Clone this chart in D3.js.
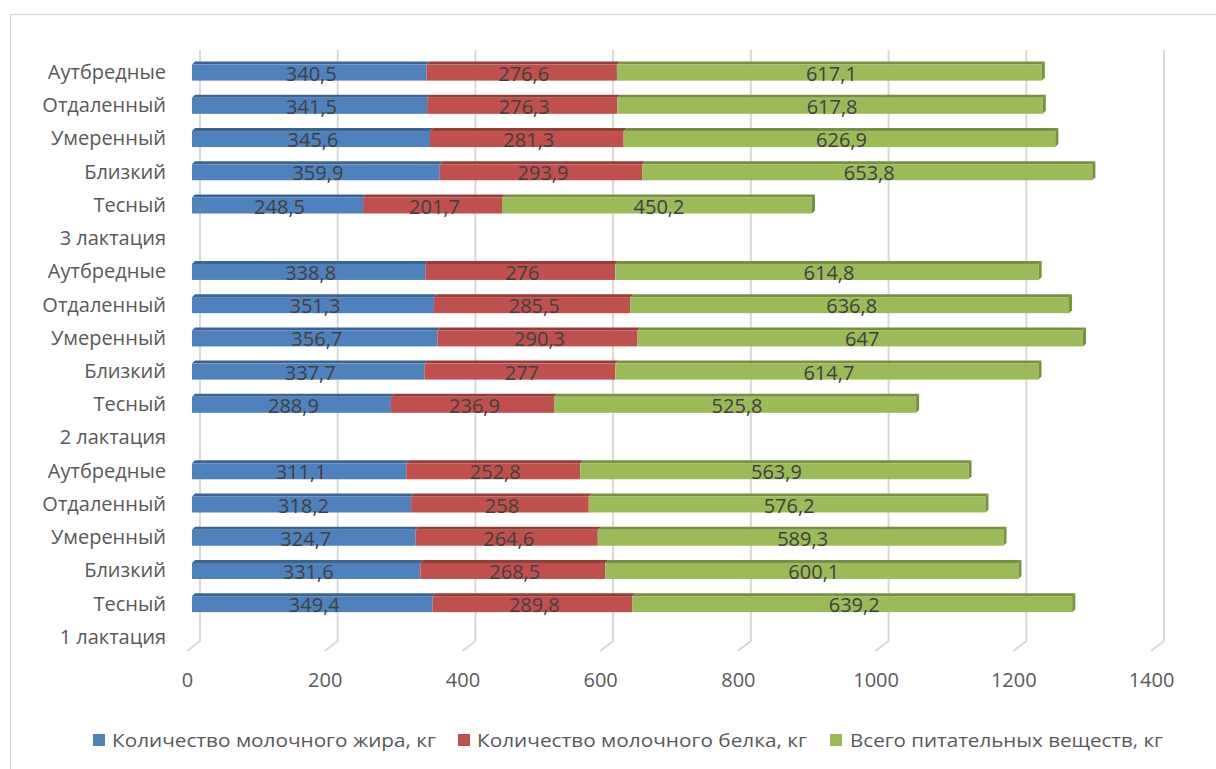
<!DOCTYPE html>
<html>
<head>
<meta charset="utf-8">
<script src="https://cdn.jsdelivr.net/npm/d3@7"></script>
<style>
  body { margin: 0; background: #fff; }
  text { font-family: "Open Sans", "Noto Sans", sans-serif; }
</style>
</head>
<body>
<svg id="chart"></svg>
<script>
// categories from bottom to top
var categories = [
  '1 лактация', 'Тесный', 'Близкий', 'Умеренный', 'Отдаленный', 'Аутбредные',
  '2 лактация', 'Тесный', 'Близкий', 'Умеренный', 'Отдаленный', 'Аутбредные',
  '3 лактация', 'Тесный', 'Близкий', 'Умеренный', 'Отдаленный', 'Аутбредные'
];
var fat     = [null, 349.4, 331.6, 324.7, 318.2, 311.1, null, 288.9, 337.7, 356.7, 351.3, 338.8, null, 248.5, 359.9, 345.6, 341.5, 340.5];
var protein = [null, 289.8, 268.5, 264.6, 258, 252.8, null, 236.9, 277, 290.3, 285.5, 276, null, 201.7, 293.9, 281.3, 276.3, 276.6];
var total   = [null, 639.2, 600.1, 589.3, 576.2, 563.9, null, 525.8, 614.7, 647, 636.8, 614.8, null, 450.2, 653.8, 626.9, 617.8, 617.1];
var seriesNames = ['Количество молочного жира, кг', 'Количество молочного белка, кг', 'Всего питательных веществ, кг'];
var xTicks = [0, 200, 400, 600, 800, 1000, 1200, 1400];

var colors = ['#4f81bd', '#c0504d', '#9bbb59'];
var topColors = ['#3b6496', '#983c3a', '#77913f'];

var width = 1216, height = 769;
var svg = d3.select('#chart').attr('width', width).attr('height', height);

// chart border
svg.append('rect').attr('x', 10.5).attr('y', 14.5).attr('width', 1215).attr('height', 760)
  .attr('fill', 'none').attr('stroke', '#d9d9d9').attr('stroke-width', 1.3);

// front-plane x scale and depth offsets
var x = d3.scaleLinear().domain([0, 1400]).range([187, 1151]);
var depthX = 13, depthY = -10;
var y = d3.scaleBand().domain(d3.range(categories.length)).range([653, 55]);

// gridlines on back wall with floor diagonal
var grid = svg.append('g');
xTicks.forEach(function(t) {
  var bx = x(t) + depthX;
  grid.append('path')
    .attr('d', 'M' + bx + ',50 L' + bx + ',' + (651 + depthY) + ' L' + x(t) + ',651')
    .attr('fill', 'none').attr('stroke', '#d9d9d9').attr('stroke-width', 2);
});

// x-axis labels
var xAxis = d3.axisBottom(x).tickValues(xTicks).tickSize(0).tickPadding(0).tickFormat(d3.format('d'));
var gx = svg.append('g').attr('transform', 'translate(0,680)').call(xAxis);
gx.select('.domain').remove();
gx.selectAll('text').attr('font-size', 20).attr('fill', '#595959').attr('dy', '0.35em').attr('y', 0);

// category labels
var yAxis = d3.axisLeft(y).tickSize(0).tickPadding(0).tickFormat(function(i) { return categories[i]; });
var gy = svg.append('g').attr('transform', 'translate(166,1)').call(yAxis);
gy.select('.domain').remove();
gy.selectAll('text').attr('font-size', 20).attr('fill', '#595959');

// stacked bars with shallow 3D look
var rows = d3.range(categories.length).filter(function(i) { return fat[i] != null; }).map(function(i) {
  return { i: i, vals: [fat[i], protein[i], total[i]] };
});
var stack = d3.stack().keys([0, 1, 2]).value(function(d, k) { return d.vals[k]; })(rows);

var barH = 16, off = 5, dz = 3;
var bars = svg.append('g');
stack.forEach(function(layer, k) {
  layer.forEach(function(seg) {
    var row = seg.data;
    var x0 = x(seg[0]) + off, x1 = x(seg[1]) + off;
    var yc = y(row.i) + y.bandwidth() / 2;
    var yt = yc - barH / 2 + 1;
    // top face
    bars.append('path')
      .attr('d', 'M' + x0 + ',' + yt + ' L' + (x0 + dz) + ',' + (yt - dz) + ' L' + (x1 + dz) + ',' + (yt - dz) + ' L' + x1 + ',' + yt + 'Z')
      .attr('fill', topColors[k]);
    // front face
    bars.append('rect').attr('x', x0).attr('y', yt).attr('width', x1 - x0).attr('height', barH)
      .attr('fill', colors[k]);
    if (k === 2) {
      bars.append('path')
        .attr('d', 'M' + x1 + ',' + yt + ' L' + (x1 + dz) + ',' + (yt - dz) + ' L' + (x1 + dz) + ',' + (yt + barH - dz) + ' L' + x1 + ',' + (yt + barH) + 'Z')
        .attr('fill', topColors[k]);
    }
    bars.append('text')
      .attr('x', (x0 + x1) / 2 + 2).attr('y', yc + 2)
      .attr('text-anchor', 'middle').attr('dy', '0.35em')
      .attr('font-size', 20).attr('fill', '#404040')
      .text(String(row.vals[k]).replace('.', ','));
  });
});

// legend
var legendItems = [
  { sx: 93, tx: 112, tl: 324 },
  { sx: 458, tx: 477, tl: 330 },
  { sx: 830, tx: 850, tl: 313 }
];
var lg = svg.append('g');
legendItems.forEach(function(it, k) {
  lg.append('rect').attr('x', it.sx).attr('y', 734).attr('width', 12).attr('height', 12).attr('fill', colors[k]);
  lg.append('text').attr('x', it.tx).attr('y', 740).attr('dy', '0.35em')
    .attr('font-size', 19).attr('fill', '#595959')
    .attr('textLength', it.tl).attr('lengthAdjust', 'spacingAndGlyphs')
    .text(seriesNames[k]);
});
</script>
</body>
</html>
